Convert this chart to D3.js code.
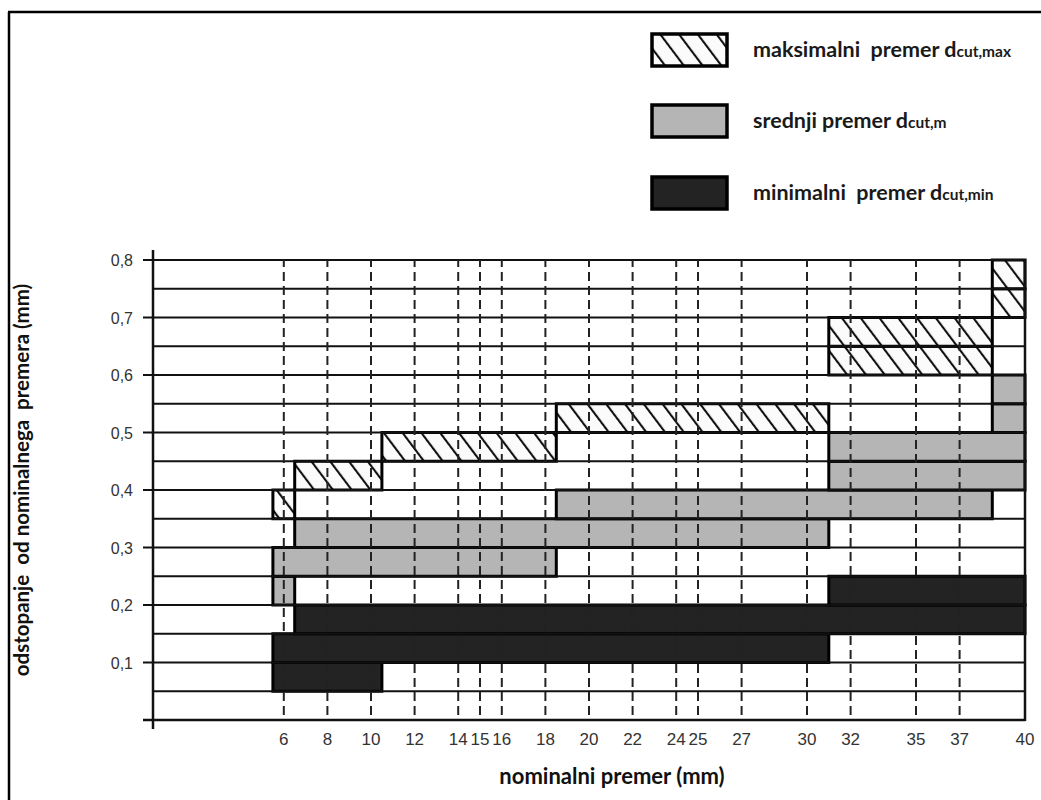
<!DOCTYPE html>
<html>
<head>
<meta charset="utf-8">
<script src="https://cdn.jsdelivr.net/npm/d3@7"></script>
<style>
  html, body { margin: 0; padding: 0; background: #fff; }
  svg { display: block; }
</style>
</head>
<body>
<svg id="chart" width="1041" height="800"></svg>
<script>
// ---------------- data ----------------
const xTickValues = [6, 8, 10, 12, 14, 15, 16, 18, 20, 22, 24, 25, 27, 30, 32, 35, 37, 40];
const yTickValues = [0.1, 0.2, 0.3, 0.4, 0.5, 0.6, 0.7, 0.8];
const yTickLabels = ["0,1", "0,2", "0,3", "0,4", "0,5", "0,6", "0,7", "0,8"];

// nominal diameter groups (mm)
const groupFrom = [5.5, 6.5, 10.5, 18.5, 31, 38.5];
const groupTo   = [6.5, 10.5, 18.5, 31, 38.5, 40];

// deviation ranges (mm) per group
const maxLo  = [0.35, 0.40, 0.45, 0.50, 0.60, 0.70];
const maxHi  = [0.40, 0.45, 0.50, 0.55, 0.70, 0.80];
const meanLo = [0.20, 0.25, 0.25, 0.30, 0.35, 0.40];
const meanHi = [0.30, 0.35, 0.35, 0.40, 0.50, 0.60];
const minLo  = [0.05, 0.05, 0.10, 0.10, 0.15, 0.15];
const minHi  = [0.15, 0.20, 0.20, 0.20, 0.25, 0.25];

const seriesNames = ["maksimalni  premer ", "srednji premer ", "minimalni  premer "];
const seriesSubs  = ["cut,max", "cut,m", "cut,min"];

const xTitle = "nominalni premer (mm)";
const yTitle = "odstopanje  od nominalnega  premera (mm)";
const bandStep = 0.05;

// ---------------- layout ----------------
const svg = d3.select("#chart");
const x = d3.scaleLinear().domain([0, 40]).range([153, 1025]);
const y = d3.scaleLinear().domain([0, 0.8]).range([720, 260]);

const defs = svg.append("defs");
defs.append("pattern")
  .attr("id", "hatch")
  .attr("patternUnits", "userSpaceOnUse")
  .attr("width", 15).attr("height", 15)
  .attr("patternTransform", "rotate(-37)")
  .call(p => {
    p.append("rect").attr("width", 15).attr("height", 15).attr("fill", "#fbfbfb");
    p.append("line").attr("x1", 1).attr("y1", 0).attr("x2", 1).attr("y2", 15)
      .attr("stroke", "#111").attr("stroke-width", 2.2);
  });

const series = [
  { lo: maxLo,  hi: maxHi,  fill: "url(#hatch)" },
  { lo: meanLo, hi: meanHi, fill: "#b5b5b5" },
  { lo: minLo,  hi: minHi,  fill: "#232323" }
];

// frame
svg.append("line").attr("x1", 8).attr("y1", 12).attr("x2", 1041).attr("y2", 12)
  .attr("stroke", "#000").attr("stroke-width", 2.5);
svg.append("line").attr("x1", 9).attr("y1", 12).attr("x2", 9).attr("y2", 800)
  .attr("stroke", "#000").attr("stroke-width", 2.5);

// ---------------- bars as strips per 0.05 band ----------------
const nBands = Math.round(0.8 / bandStep);
const eps = 1e-6;
const strips = [];
series.forEach((s, si) => {
  for (let k = 0; k < nBands; k++) {
    const b0 = k * bandStep, b1 = b0 + bandStep;
    let cur = null;
    groupFrom.forEach((gf, gi) => {
      const inside = s.lo[gi] <= b0 + eps && s.hi[gi] >= b1 - eps;
      if (inside) {
        if (cur && Math.abs(cur.to - gf) < eps) { cur.to = groupTo[gi]; }
        else { cur = { si, from: gf, to: groupTo[gi], b0, b1 }; strips.push(cur); }
      } else {
        cur = null;
      }
    });
  }
});

svg.append("g").selectAll("rect").data(strips).join("rect")
  .attr("x", d => x(d.from))
  .attr("y", d => y(d.b1))
  .attr("width", d => x(d.to) - x(d.from))
  .attr("height", d => y(d.b0) - y(d.b1))
  .attr("fill", d => series[d.si].fill)
  .attr("stroke", "#000")
  .attr("stroke-width", 3);

// ---------------- grid ----------------
const bandLines = d3.range(1, nBands + 1).map(k => k * bandStep);
svg.append("g").selectAll("line").data(bandLines).join("line")
  .attr("x1", d => (Math.round(d / bandStep) % 2 === 0) ? 143 : x(0))
  .attr("x2", x(40))
  .attr("y1", d => y(d)).attr("y2", d => y(d))
  .attr("stroke", "#111").attr("stroke-width", 2.2);

// vertical dashed gridlines
svg.append("g").selectAll("line").data(xTickValues.filter(v => v < 40)).join("line")
  .attr("x1", d => x(d)).attr("x2", d => x(d))
  .attr("y1", y(0.8)).attr("y2", y(0))
  .attr("stroke", "#222").attr("stroke-width", 2)
  .attr("stroke-dasharray", "9,5")
  .attr("stroke-dashoffset", 2);

// right edge (40)
svg.append("line").attr("x1", x(40)).attr("x2", x(40)).attr("y1", y(0.8) - 1).attr("y2", y(0) + 1)
  .attr("stroke", "#111").attr("stroke-width", 2.5);

// axes lines
svg.append("line").attr("x1", x(0)).attr("x2", x(0)).attr("y1", y(0.8) - 10).attr("y2", y(0) + 9)
  .attr("stroke", "#111").attr("stroke-width", 2.5);
svg.append("line").attr("x1", 143).attr("x2", x(40)).attr("y1", y(0)).attr("y2", y(0))
  .attr("stroke", "#111").attr("stroke-width", 2.5);

// ---------------- tick labels ----------------
svg.append("g").selectAll("text").data(yTickValues).join("text")
  .attr("x", 133).attr("y", d => y(d) + 6)
  .attr("text-anchor", "end")
  .attr("font-family", "'Liberation Sans', Arial, sans-serif")
  .attr("font-size", 16)
  .attr("fill", "#333")
  .text((d, i) => yTickLabels[i]);

svg.append("g").selectAll("text").data(xTickValues).join("text")
  .attr("x", d => x(d)).attr("y", 745)
  .attr("text-anchor", "middle")
  .attr("font-family", "'Liberation Sans', Arial, sans-serif")
  .attr("font-size", 17)
  .attr("fill", "#333")
  .text(d => d);

// ---------------- titles ----------------
svg.append("text")
  .attr("x", 612).attr("y", 784)
  .attr("text-anchor", "middle")
  .attr("font-family", "Lato, 'Open Sans', sans-serif")
  .attr("font-weight", "bold")
  .attr("font-size", 22)
  .attr("fill", "#111")
  .text(xTitle);

svg.append("text")
  .attr("transform", "translate(29,480) rotate(-90)")
  .attr("text-anchor", "middle")
  .attr("font-family", "Lato, 'Open Sans', sans-serif")
  .attr("font-weight", "bold")
  .attr("font-size", 20.5)
  .attr("fill", "#111")
  .attr("xml:space", "preserve")
  .text(yTitle);

// ---------------- legend ----------------
const legendY = [50, 121, 193];
const leg = svg.append("g").selectAll("g").data(series).join("g")
  .attr("transform", (d, i) => `translate(652,${legendY[i]})`);
leg.append("rect")
  .attr("x", 0).attr("y", -16).attr("width", 75).attr("height", 32)
  .attr("fill", d => d.fill)
  .attr("stroke", "#000").attr("stroke-width", 3.5);
const lt = leg.append("text")
  .attr("x", 101).attr("y", 7)
  .attr("font-family", "Lato, 'Open Sans', sans-serif")
  .attr("font-weight", "bold")
  .attr("font-size", 21.5)
  .attr("fill", "#1a1a1a")
  .attr("xml:space", "preserve");
lt.append("tspan").text((d, i) => seriesNames[i] + "d");
lt.append("tspan").attr("font-size", 15.5).text((d, i) => seriesSubs[i]);
</script>
</body>
</html>
